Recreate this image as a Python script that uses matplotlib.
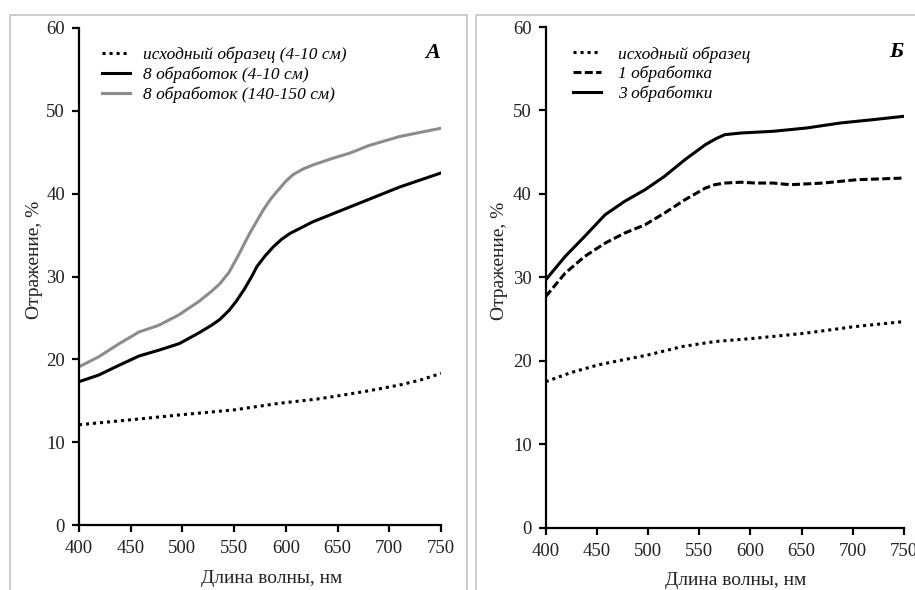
import numpy as np
import matplotlib
matplotlib.use("Agg")
import matplotlib.pyplot as plt
from matplotlib.patches import Rectangle

plt.rcParams["font.family"] = ["Liberation Serif", "DejaVu Serif"]

# --- панель А ---
wl_a_dot = [400, 450, 498, 550, 594, 630, 656, 680, 710, 730, 750]
refl_a_dot = [12.1, 12.7, 13.3, 13.9, 14.7, 15.2, 15.7, 16.2, 16.9, 17.5, 18.3]

wl_a_black = [400, 419, 439, 458, 477, 497, 516, 528, 536, 545, 552, 560, 567, 572, 580, 588, 596, 604,
              615, 626, 646, 662, 680, 710, 750]
refl_a_black = [17.3, 18.1, 19.3, 20.4, 21.1, 21.9, 23.2, 24.1, 24.8, 25.9, 27.0, 28.5, 30.0, 31.2, 32.5,
                33.6, 34.5, 35.2, 35.9, 36.6, 37.6, 38.4, 39.3, 40.8, 42.5]

wl_a_gray = [400, 419, 439, 458, 477, 497, 516, 528, 536, 545, 553, 565, 578, 585, 591, 600, 607,
             617, 627, 646, 662, 680, 710, 750]
refl_a_gray = [19.1, 20.3, 21.9, 23.3, 24.1, 25.4, 27.0, 28.2, 29.1, 30.5, 32.3, 35.2, 38.0, 39.3, 40.2,
               41.5, 42.3, 43.0, 43.5, 44.3, 44.9, 45.8, 46.9, 47.9]

# --- панель Б ---
wl_b_dot = [400, 425, 451, 475, 500, 533, 565, 604, 653, 702, 750]
refl_b_dot = [17.5, 18.6, 19.5, 20.1, 20.7, 21.7, 22.3, 22.7, 23.3, 24.1, 24.7]

wl_b_dash = [400, 419, 438, 458, 477, 497, 516, 536, 556, 565, 575, 591, 605, 622, 639, 655,
             671, 704, 750]
refl_b_dash = [27.7, 30.5, 32.5, 34.1, 35.3, 36.3, 37.7, 39.3, 40.7, 41.1, 41.3, 41.4, 41.3, 41.3, 41.1, 41.2,
               41.3, 41.7, 41.9]

wl_b_solid = [400, 419, 438, 458, 477, 497, 516, 536, 556, 566, 575, 591, 622, 655, 688, 720, 750]
refl_b_solid = [29.7, 32.5, 34.9, 37.5, 39.1, 40.5, 42.1, 44.1, 45.9, 46.6, 47.1, 47.3, 47.5, 47.9, 48.5,
                48.9, 49.3]

labels_a = ["исходный образец (4-10 см)", "8 обработок (4-10 см)", "8 обработок (140-150 см)"]
labels_b = ["исходный образец", "1 обработка", "3 обработки"]

W, H = 915, 590
fig = plt.figure(figsize=(W / 100, H / 100), dpi=100)

# рамки панелей
for x0, x1 in [(9.5, 466.7), (475.7, 925)]:
    fig.add_artist(Rectangle((x0 / W, -0.05), (x1 - x0) / W, 1.05 - 15 / H,
                             transform=fig.transFigure, fill=False,
                             edgecolor="#c8c8c8", linewidth=1.3, clip_on=False))

ax1 = fig.add_axes([79 / W, 1 - 525 / H, 362 / W, 497 / H])
ax2 = fig.add_axes([545.7 / W, 1 - 527.7 / H, 358.3 / W, 500.7 / H])

dot = (0, (1, 1.3))
dash = (0, (2.6, 1.1))
lw = 2.2

ax1.plot(wl_a_dot, refl_a_dot, color="black", lw=lw, ls=dot, label=labels_a[0])
ax1.plot(wl_a_black, refl_a_black, color="black", lw=lw, label=labels_a[1])
ax1.plot(wl_a_gray, refl_a_gray, color="#8c8c8c", lw=lw, label=labels_a[2])

ax2.plot(wl_b_dot, refl_b_dot, color="black", lw=lw, ls=dot, label=labels_b[0])
ax2.plot(wl_b_dash, refl_b_dash, color="black", lw=lw, ls=dash, label=labels_b[1])
ax2.plot(wl_b_solid, refl_b_solid, color="black", lw=lw, label=labels_b[2])

for ax, letter, lx, tpad in [(ax1, "А", 0.0635, 0.75), (ax2, "Б", 0.076, 1.0)]:
    ax.set_xlim(400, 750)
    ax.set_ylim(0, 60)
    ax.set_xticks(np.arange(400, 751, 50))
    ax.set_yticks(np.arange(0, 61, 10))
    for s in ["top", "right"]:
        ax.spines[s].set_visible(False)
    for s in ["left", "bottom"]:
        ax.spines[s].set_linewidth(1.6)
    ax.tick_params(direction="out", length=5, width=1.6, labelsize=13.5, color="black",
                   labelcolor="#222222")
    ax.tick_params(axis="x", pad=6)
    ax.tick_params(axis="y", pad=5)
    ax.set_xlabel("Длина волны, нм", fontsize=14, color="#222222")
    ax.set_ylabel("Отражение, %", fontsize=14, color="#222222")
    ax.text(0.978, 0.95, letter, transform=ax.transAxes, fontsize=16,
            fontweight="bold", fontstyle="italic", ha="center", va="center")
    ax.legend(loc="upper left", bbox_to_anchor=(lx, 0.962), frameon=False,
              prop={"style": "italic", "size": 12.5}, handlelength=1.6,
              handletextpad=tpad, labelspacing=0.2, borderpad=0, borderaxespad=0)

ax1.xaxis.set_label_coords(0.533, -0.09)
ax2.xaxis.set_label_coords(0.531, -0.088)
ax1.yaxis.set_label_coords(-0.1, 0.533)
ax2.yaxis.set_label_coords(-0.105, 0.533)

fig.savefig("out.png", dpi=100)
